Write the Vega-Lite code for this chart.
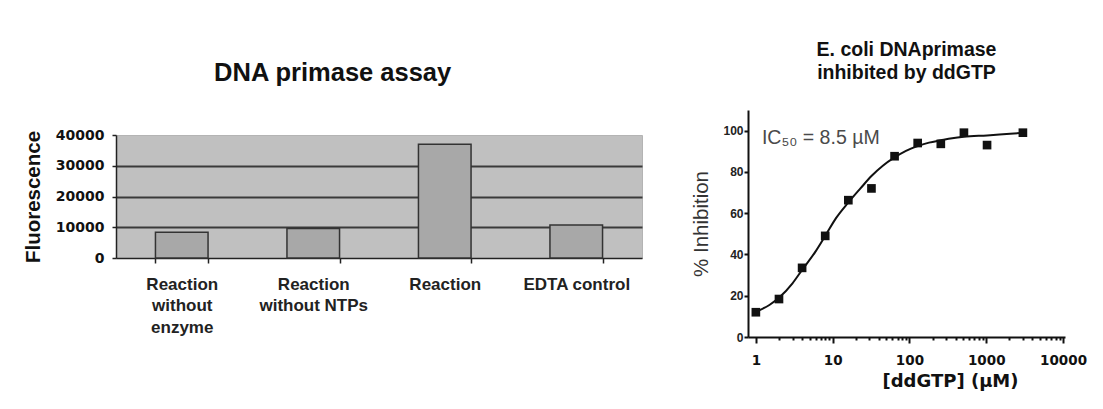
{
  "$schema": "https://vega.github.io/schema/vega-lite/v6.json",
  "padding": {"left": 22, "top": 40, "right": 5, "bottom": 5},
  "background": "white",
  "spacing": 48,
  "datasets": {
    "bars": [
      {"sample": "Reaction without enzyme", "fluorescence": 8400},
      {"sample": "Reaction without NTPs", "fluorescence": 9600},
      {"sample": "Reaction", "fluorescence": 37000},
      {"sample": "EDTA control", "fluorescence": 10700}
    ],
    "points": [
      {"conc": 1, "inhibition": 12},
      {"conc": 2, "inhibition": 18.4},
      {"conc": 4, "inhibition": 33.5},
      {"conc": 8, "inhibition": 49},
      {"conc": 16, "inhibition": 66.3},
      {"conc": 32, "inhibition": 72},
      {"conc": 64, "inhibition": 87.6},
      {"conc": 128, "inhibition": 94},
      {"conc": 256, "inhibition": 93.6},
      {"conc": 512, "inhibition": 99},
      {"conc": 1024, "inhibition": 93},
      {"conc": 3000, "inhibition": 99}
    ],
    "curve": [
      {"conc": 0.91, "inhibition": 11},
      {"conc": 1, "inhibition": 12},
      {"conc": 1.5, "inhibition": 15.5},
      {"conc": 2, "inhibition": 19},
      {"conc": 3, "inhibition": 26},
      {"conc": 4, "inhibition": 32.5},
      {"conc": 6, "inhibition": 41.5},
      {"conc": 8, "inhibition": 49},
      {"conc": 11, "inhibition": 57.5},
      {"conc": 16, "inhibition": 65.2},
      {"conc": 23, "inhibition": 72},
      {"conc": 32, "inhibition": 78},
      {"conc": 45, "inhibition": 83},
      {"conc": 64, "inhibition": 87},
      {"conc": 90, "inhibition": 90.2},
      {"conc": 128, "inhibition": 92.5},
      {"conc": 180, "inhibition": 94.2},
      {"conc": 256, "inhibition": 95.3},
      {"conc": 360, "inhibition": 96.3},
      {"conc": 512, "inhibition": 97},
      {"conc": 1024, "inhibition": 97.7},
      {"conc": 2048, "inhibition": 98.5},
      {"conc": 3000, "inhibition": 98.9}
    ],
    "notes": [
      {"note": "IC₅₀ = 8.5 µM"}
    ]
  },
  "hconcat": [
    {
      "width": 526,
      "height": 123,
      "title": {
        "text": "DNA primase assay",
        "font": "Liberation Sans",
        "fontSize": 25.5,
        "fontWeight": "bold",
        "color": "#111",
        "frame": "bounds",
        "offset": 42
      },
      "view": {"fill": "#c0c0c0", "stroke": "#b4b4b4"},
      "data": {"name": "bars"},
      "mark": {"type": "bar", "fill": "#a8a8a8", "stroke": "#333", "strokeWidth": 1.5},
      "encoding": {
        "x": {
          "field": "sample",
          "type": "nominal",
          "sort": null,
          "scale": {"paddingInner": 0.6, "paddingOuter": 0.3},
          "axis": {
            "title": null,
            "labelAngle": 0,
            "tickBand": "extent",
            "labelExpr": "datum.label == 'Reaction without enzyme' ? ['Reaction', 'without', 'enzyme'] : datum.label == 'Reaction without NTPs' ? ['Reaction', 'without NTPs'] : datum.label",
            "labelFont": "Liberation Sans",
            "labelFontWeight": "bold",
            "labelFontSize": 17,
            "labelLineHeight": 21.5,
            "labelPadding": 13,
            "labelColor": "#222",
            "domainColor": "#222",
            "domainWidth": 1.5,
            "tickColor": "#222",
            "tickWidth": 1.5,
            "tickSize": 5
          }
        },
        "y": {
          "field": "fluorescence",
          "type": "quantitative",
          "scale": {"domain": [0, 40000]},
          "axis": {
            "title": "Fluorescence",
            "titleFont": "Liberation Sans",
            "titleFontSize": 20.5,
            "titleFontWeight": "bold",
            "titleColor": "#111",
            "titlePadding": 12,
            "values": [0, 10000, 20000, 30000, 40000],
            "format": "d",
            "labelFont": "DejaVu Sans",
            "labelFontWeight": "bold",
            "labelFontSize": 14,
            "labelColor": "#111",
            "labelPadding": 8,
            "domainColor": "#222",
            "domainWidth": 1.5,
            "tickColor": "#222",
            "tickWidth": 1.5,
            "tickSize": 4,
            "grid": true,
            "gridColor": "#3a3a3a",
            "gridWidth": 2,
            "gridOpacity": {"condition": {"test": "datum.value == 0 || datum.value == 40000", "value": 0}, "value": 1}
          }
        }
      }
    },
    {
      "width": 317,
      "height": 202,
      "title": {
        "text": ["E. coli DNAprimase", "inhibited by ddGTP"],
        "font": "Liberation Sans",
        "fontSize": 19.5,
        "fontWeight": "bold",
        "color": "#111",
        "lineHeight": 23,
        "offset": 41
      },
      "view": {"stroke": null},
      "layer": [
        {
          "data": {"name": "curve"},
          "mark": {"type": "line", "color": "#111", "strokeWidth": 2, "interpolate": "monotone"},
          "encoding": {
            "x": {
              "field": "conc",
              "type": "quantitative",
              "scale": {"type": "log", "domain": [0.79, 10600], "nice": false},
              "axis": {
                "title": "[ddGTP] (µM)",
                "titleFont": "DejaVu Sans",
                "titleFontSize": 18,
                "titleFontWeight": "bold",
                "titleColor": "#111",
                "titleX": 202,
                "titlePadding": 6,
                "values": [1, 2, 3, 4, 5, 6, 7, 8, 9, 10, 20, 30, 40, 50, 60, 70, 80, 90, 100, 200, 300, 400, 500, 600, 700, 800, 900, 1000, 2000, 3000, 4000, 5000, 6000, 7000, 8000, 9000, 10000],
                "format": "d",
                "labelExpr": "indexof([1, 10, 100, 1000, 10000], datum.value) >= 0 ? datum.label : ''",
                "labelFlush": false,
                "labelFont": "DejaVu Sans",
                "labelFontWeight": "bold",
                "labelFontSize": 13.5,
                "labelColor": "#111",
                "labelPadding": 10,
                "domainColor": "#111",
                "domainWidth": 2,
                "tickColor": "#111",
                "tickWidth": 2,
                "tickSize": {"condition": {"test": "indexof([1, 10, 100, 1000, 10000], datum.value) >= 0", "value": 6}, "value": 3},
                "grid": false
              }
            },
            "y": {
              "field": "inhibition",
              "type": "quantitative",
              "scale": {"domain": [0, 110], "range": [202, -25], "nice": false},
              "axis": {
                "title": "% Inhibition",
                "titleFont": "Liberation Sans",
                "titleFontSize": 20.5,
                "titleFontWeight": "normal",
                "titleColor": "#333",
                "titlePadding": 11,
                "values": [0, 20, 40, 60, 80, 100],
                "labelFont": "Liberation Sans",
                "labelFontWeight": "bold",
                "labelFontSize": 12,
                "labelColor": "#222",
                "labelPadding": 1,
                "domainColor": "#111",
                "domainWidth": 2,
                "tickColor": "#111",
                "tickWidth": 2,
                "tickSize": 4,
                "grid": false
              }
            }
          }
        },
        {
          "data": {"name": "points"},
          "mark": {"type": "point", "shape": "square", "filled": true, "color": "#111", "size": 75, "opacity": 1},
          "encoding": {
            "x": {"field": "conc", "type": "quantitative", "scale": {"type": "log", "domain": [0.79, 10600], "nice": false}},
            "y": {"field": "inhibition", "type": "quantitative", "scale": {"domain": [0, 110], "range": [202, -25], "nice": false}}
          }
        },
        {
          "data": {"name": "notes"},
          "mark": {"type": "text", "font": "Liberation Sans", "fontSize": 19.5, "color": "#4a4a4a", "align": "left", "baseline": "middle"},
          "encoding": {
            "x": {"datum": 1.2, "type": "quantitative", "scale": {"type": "log", "domain": [0.79, 10600], "nice": false}},
            "y": {"datum": 96.5, "type": "quantitative", "scale": {"domain": [0, 110], "range": [202, -25], "nice": false}},
            "text": {"field": "note", "type": "nominal"}
          }
        }
      ]
    }
  ]
}
